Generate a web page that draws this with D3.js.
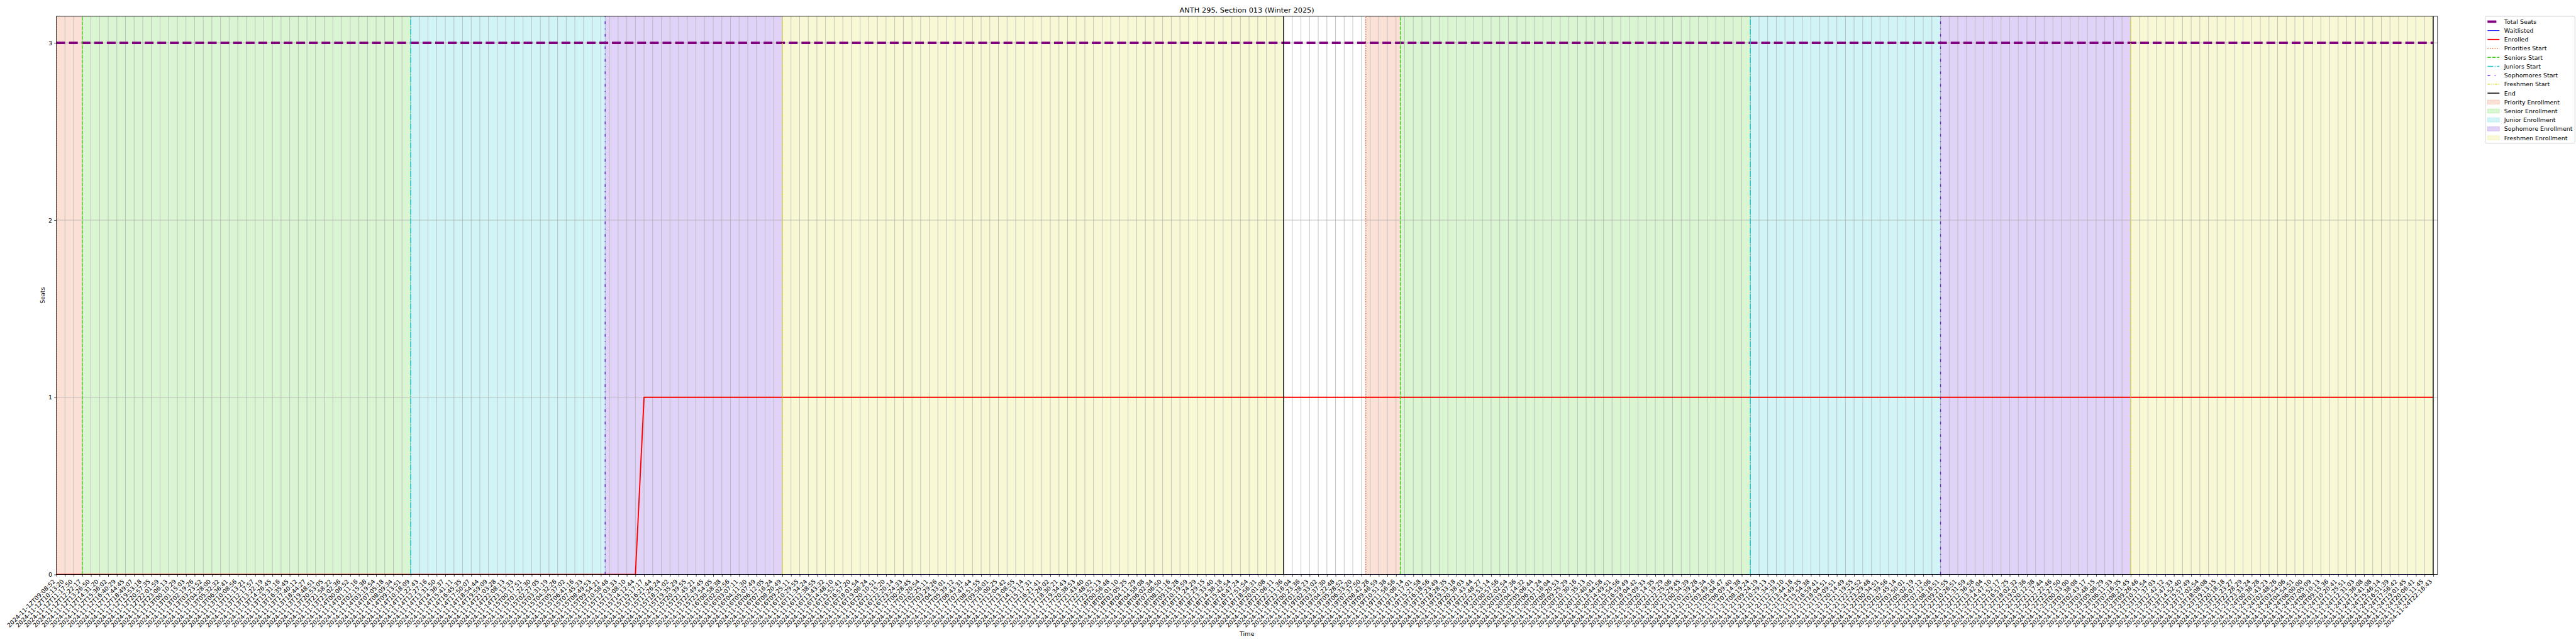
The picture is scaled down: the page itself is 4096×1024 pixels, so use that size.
<!DOCTYPE html>
<html><head><meta charset="utf-8">
<script src="https://cdn.jsdelivr.net/npm/d3@7"></script>
<style>html,body{margin:0;padding:0;background:#fff;} svg{display:block;}</style>
</head><body>
<svg id="chart" width="4096" height="1024"></svg>
<script>
// ---------------- DATA ----------------
const titleText = "ANTH 295, Section 013 (Winter 2025)";
const timeLabels = [
"2024-11-12T09:08:52","2024-11-12T10:13:20","2024-11-12T11:17:50","2024-11-12T12:22:17","2024-11-12T13:26:50","2024-11-12T14:31:20","2024-11-12T15:36:02","2024-11-12T16:40:29","2024-11-12T17:44:45","2024-11-12T18:49:07","2024-11-12T19:53:18","2024-11-12T20:57:35","2024-11-12T22:01:59","2024-11-12T23:06:13",
"2024-11-13T00:10:29","2024-11-13T01:15:03","2024-11-13T02:19:26","2024-11-13T03:23:52","2024-11-13T04:28:00","2024-11-13T05:32:32","2024-11-13T06:36:41","2024-11-13T10:08:56","2024-11-13T11:13:21","2024-11-13T12:17:57","2024-11-13T13:22:19","2024-11-13T14:26:45","2024-11-13T15:31:16","2024-11-13T16:35:45","2024-11-13T17:40:12","2024-11-13T18:44:27","2024-11-13T19:48:51","2024-11-13T20:53:05","2024-11-13T21:58:22","2024-11-13T23:02:36",
"2024-11-14T00:06:52","2024-11-14T01:11:16","2024-11-14T02:15:36","2024-11-14T03:19:54","2024-11-14T07:05:18","2024-11-14T08:09:34","2024-11-14T09:13:51","2024-11-14T10:18:09","2024-11-14T11:22:43","2024-11-14T12:27:16","2024-11-14T13:31:50","2024-11-14T14:36:37","2024-11-14T15:41:11","2024-11-14T16:45:35","2024-11-14T17:50:07","2024-11-14T18:54:44","2024-11-14T19:59:09","2024-11-14T21:03:28","2024-11-14T22:08:13","2024-11-14T23:13:33",
"2024-11-15T00:17:51","2024-11-15T01:22:30","2024-11-15T02:27:05","2024-11-15T03:31:19","2024-11-15T04:32:26","2024-11-15T05:37:02","2024-11-15T06:41:16","2024-11-15T07:45:33","2024-11-15T08:49:53","2024-11-15T09:54:21","2024-11-15T10:58:48","2024-11-15T12:03:33","2024-11-15T13:08:10","2024-11-15T14:12:44","2024-11-15T15:17:17","2024-11-15T16:21:44","2024-11-15T17:26:24","2024-11-15T18:31:02","2024-11-15T19:35:29","2024-11-15T20:39:55","2024-11-15T21:45:21","2024-11-15T22:49:45","2024-11-15T23:54:05",
"2024-11-16T00:58:38","2024-11-16T02:02:56","2024-11-16T03:07:11","2024-11-16T04:11:30","2024-11-16T05:07:49","2024-11-16T06:12:05","2024-11-16T07:16:24","2024-11-16T08:20:49","2024-11-16T09:25:11","2024-11-16T10:29:55","2024-11-16T11:34:24","2024-11-16T12:38:55","2024-11-16T13:43:32","2024-11-16T14:48:10","2024-11-16T15:52:41","2024-11-16T16:57:20","2024-11-16T18:01:54","2024-11-16T19:06:24","2024-11-16T20:10:51","2024-11-16T21:15:20","2024-11-16T22:20:14","2024-11-16T23:24:33",
"2024-11-17T00:28:45","2024-11-17T01:20:54","2024-11-17T02:25:11","2024-11-17T03:29:26","2024-11-17T04:33:01","2024-11-17T05:39:12","2024-11-17T06:43:31","2024-11-17T07:47:44","2024-11-17T08:51:55","2024-11-17T09:56:01","2024-11-17T11:00:25","2024-11-17T12:04:42","2024-11-17T13:08:55","2024-11-17T14:13:14","2024-11-17T15:17:31","2024-11-17T16:21:41","2024-11-17T17:26:02","2024-11-17T18:30:21","2024-11-17T19:34:43","2024-11-17T20:38:53","2024-11-17T21:43:40","2024-11-17T22:48:02","2024-11-17T23:52:13",
"2024-11-18T00:56:48","2024-11-18T02:01:10","2024-11-18T03:05:25","2024-11-18T04:11:29","2024-11-18T04:58:08","2024-11-18T06:02:34","2024-11-18T07:06:50","2024-11-18T08:11:16","2024-11-18T09:15:28","2024-11-18T10:19:59","2024-11-18T11:24:29","2024-11-18T12:29:15","2024-11-18T13:33:40","2024-11-18T14:38:18","2024-11-18T15:42:54","2024-11-18T16:47:24","2024-11-18T17:51:54","2024-11-18T18:56:31","2024-11-18T20:01:08","2024-11-18T21:06:11","2024-11-18T22:11:36","2024-11-18T23:16:04",
"2024-11-19T00:23:36","2024-11-19T01:28:23","2024-11-19T02:33:02","2024-11-19T03:37:30","2024-11-19T04:22:48","2024-11-19T05:28:52","2024-11-19T06:33:20","2024-11-19T07:37:50","2024-11-19T08:42:28","2024-11-19T09:46:59","2024-11-19T10:51:38","2024-11-19T11:56:56","2024-11-19T13:06:14","2024-11-19T14:17:01","2024-11-19T15:21:58","2024-11-19T16:18:56","2024-11-19T17:23:49","2024-11-19T18:28:35","2024-11-19T19:33:18","2024-11-19T20:38:03","2024-11-19T21:43:44","2024-11-19T22:48:27","2024-11-19T23:53:14",
"2024-11-20T00:57:56","2024-11-20T02:02:54","2024-11-20T03:07:36","2024-11-20T04:14:32","2024-11-20T05:06:44","2024-11-20T06:11:24","2024-11-20T07:16:04","2024-11-20T08:20:53","2024-11-20T09:25:29","2024-11-20T10:30:16","2024-11-20T11:35:13","2024-11-20T12:40:01","2024-11-20T13:44:58","2024-11-20T14:49:51","2024-11-20T15:54:56","2024-11-20T16:59:49","2024-11-20T18:04:42","2024-11-20T19:09:33","2024-11-20T20:14:35","2024-11-20T21:19:29","2024-11-20T22:25:06","2024-11-20T23:29:45",
"2024-11-21T00:34:39","2024-11-21T01:39:28","2024-11-21T02:44:34","2024-11-21T03:49:16","2024-11-21T05:04:47","2024-11-21T06:09:40","2024-11-21T07:14:38","2024-11-21T08:19:24","2024-11-21T09:24:19","2024-11-21T10:29:13","2024-11-21T11:34:19","2024-11-21T12:39:10","2024-11-21T13:44:18","2024-11-21T14:49:35","2024-11-21T15:54:38","2024-11-21T16:59:41","2024-11-21T18:04:51","2024-11-21T19:09:51","2024-11-21T20:14:49","2024-11-21T21:19:55","2024-11-21T22:24:52","2024-11-21T23:29:48",
"2024-11-22T00:34:51","2024-11-22T01:39:56","2024-11-22T02:45:14","2024-11-22T03:50:01","2024-11-22T05:02:19","2024-11-22T06:07:12","2024-11-22T07:12:06","2024-11-22T08:16:51","2024-11-22T09:21:55","2024-11-22T10:26:51","2024-11-22T11:31:59","2024-11-22T12:36:58","2024-11-22T13:42:04","2024-11-22T14:47:10","2024-11-22T15:52:17","2024-11-22T16:57:25","2024-11-22T18:02:32","2024-11-22T19:07:36","2024-11-22T20:12:38","2024-11-22T21:17:44","2024-11-22T22:22:46","2024-11-22T23:27:50",
"2024-11-23T00:33:00","2024-11-23T01:38:08","2024-11-23T02:43:17","2024-11-23T03:48:15","2024-11-23T05:06:29","2024-11-23T06:11:33","2024-11-23T07:16:35","2024-11-23T08:21:45","2024-11-23T09:26:46","2024-11-23T10:31:54","2024-11-23T11:37:03","2024-11-23T12:42:12","2024-11-23T13:47:33","2024-11-23T14:52:40","2024-11-23T15:57:49","2024-11-23T17:02:54","2024-11-23T18:08:08","2024-11-23T19:13:15","2024-11-23T20:18:18","2024-11-23T21:23:27","2024-11-23T22:28:29","2024-11-23T23:33:24",
"2024-11-24T00:38:28","2024-11-24T01:43:23","2024-11-24T02:48:26","2024-11-24T03:54:06","2024-11-24T04:54:51","2024-11-24T06:00:00","2024-11-24T07:05:09","2024-11-24T08:10:13","2024-11-24T09:15:36","2024-11-24T10:20:41","2024-11-24T11:25:51","2024-11-24T12:31:03","2024-11-24T13:36:08","2024-11-24T14:41:08","2024-11-24T15:46:14","2024-11-24T16:51:39","2024-11-24T17:56:42","2024-11-24T19:01:45","2024-11-24T20:06:41","2024-11-24T21:11:45","2024-11-24T22:16:43"
];
const totalSeats = [
3,3,3,3,3,3,3,3,3,3,3,3,3,3,3,3,3,3,3,3,3,3,3,3,3,3,3,3,3,3,3,3,3,3,3,3,3,3,3,3,3,3,3,3,3,3,
3,3,3,3,3,3,3,3,3,3,3,3,3,3,3,3,3,3,3,3,3,3,3,3,3,3,3,3,3,3,3,3,3,3,3,3,3,3,3,3,3,3,3,3,3,3,
3,3,3,3,3,3,3,3,3,3,3,3,3,3,3,3,3,3,3,3,3,3,3,3,3,3,3,3,3,3,3,3,3,3,3,3,3,3,3,3,3,3,3,3,3,3,
3,3,3,3,3,3,3,3,3,3,3,3,3,3,3,3,3,3,3,3,3,3,3,3,3,3,3,3,3,3,3,3,3,3,3,3,3,3,3,3,3,3,3,3,3,3,
3,3,3,3,3,3,3,3,3,3,3,3,3,3,3,3,3,3,3,3,3,3,3,3,3,3,3,3,3,3,3,3,3,3,3,3,3,3,3,3,3,3,3,3,3,3,
3,3,3,3,3,3,3,3,3,3,3,3,3,3,3,3,3,3,3,3,3,3,3,3,3,3,3,3,3,3,3,3,3,3,3,3,3,3,3,3,3,3,3,3,3,3
];
const waitlisted = [
0,0,0,0,0,0,0,0,0,0,0,0,0,0,0,0,0,0,0,0,0,0,0,0,0,0,0,0,0,0,0,0,0,0,0,0,0,0,0,0,0,0,0,0,0,0,
0,0,0,0,0,0,0,0,0,0,0,0,0,0,0,0,0,0,0,0,0,0,0,0,0,0,0,0,0,0,0,0,0,0,0,0,0,0,0,0,0,0,0,0,0,0,
0,0,0,0,0,0,0,0,0,0,0,0,0,0,0,0,0,0,0,0,0,0,0,0,0,0,0,0,0,0,0,0,0,0,0,0,0,0,0,0,0,0,0,0,0,0,
0,0,0,0,0,0,0,0,0,0,0,0,0,0,0,0,0,0,0,0,0,0,0,0,0,0,0,0,0,0,0,0,0,0,0,0,0,0,0,0,0,0,0,0,0,0,
0,0,0,0,0,0,0,0,0,0,0,0,0,0,0,0,0,0,0,0,0,0,0,0,0,0,0,0,0,0,0,0,0,0,0,0,0,0,0,0,0,0,0,0,0,0,
0,0,0,0,0,0,0,0,0,0,0,0,0,0,0,0,0,0,0,0,0,0,0,0,0,0,0,0,0,0,0,0,0,0,0,0,0,0,0,0,0,0,0,0,0,0
];
const enrolled = [
0,0,0,0,0,0,0,0,0,0,0,0,0,0,0,0,0,0,0,0,0,0,0,0,0,0,0,0,0,0,0,0,0,0,0,0,0,0,0,0,0,0,0,0,0,0,
0,0,0,0,0,0,0,0,0,0,0,0,0,0,0,0,0,0,0,0,0,0,1,1,1,1,1,1,1,1,1,1,1,1,1,1,1,1,1,1,1,1,1,1,1,1,
1,1,1,1,1,1,1,1,1,1,1,1,1,1,1,1,1,1,1,1,1,1,1,1,1,1,1,1,1,1,1,1,1,1,1,1,1,1,1,1,1,1,1,1,1,1,
1,1,1,1,1,1,1,1,1,1,1,1,1,1,1,1,1,1,1,1,1,1,1,1,1,1,1,1,1,1,1,1,1,1,1,1,1,1,1,1,1,1,1,1,1,1,
1,1,1,1,1,1,1,1,1,1,1,1,1,1,1,1,1,1,1,1,1,1,1,1,1,1,1,1,1,1,1,1,1,1,1,1,1,1,1,1,1,1,1,1,1,1,
1,1,1,1,1,1,1,1,1,1,1,1,1,1,1,1,1,1,1,1,1,1,1,1,1,1,1,1,1,1,1,1,1,1,1,1,1,1,1,1,1,1,1,1,1,1
];
const yTicks = [0, 1, 2, 3];
const xLimits = [0, 275.5];
const yLimits = [0, 3.15];
// phase boundaries (positions in sample index units)
const phaseNames   = ["Priorities Start", "Seniors Start", "Juniors Start", "Sophomores Start", "Freshmen Start"];
const spanNames    = ["Priority Enrollment", "Senior Enrollment", "Junior Enrollment", "Sophomore Enrollment", "Freshmen Enrollment"];
const period1Starts = [0, 3, 41, 63.5, 84];
const period1End    = 142;
const period2Starts = [151.5, 155.5, 196, 218, 240];
const period2End    = 275;

// ---------------- STYLE ----------------
const S = 0.682;
const PT = 100 / 72 * S;            // pixels per point
const phaseColors = ["#e8662e", "#3fcc1f", "#19c6d2", "#6a22d6", "#dcdc2c"];
const phaseDash = [[1, 1.65], [3.7, 1.6], [6.4, 1.6, 1, 1.6], [3, 5, 1, 5], [3, 1, 1, 1, 1, 1]];
const phaseLW = 1.5;

const W = 4096, H = 1024;
const M = {left: 131.3 * S, right: 5683 * S, top: 38 * S, bottom: 1339.5 * S};
const FS = 10 * 100 / 72 * S;  // 10pt
const FONT = "DejaVu Sans, sans-serif";

const svg = d3.select("#chart");
svg.append("rect").attr("width", W).attr("height", H).attr("fill", "#fff");

const x = d3.scaleLinear().domain(xLimits).range([M.left, M.right]);
const y = d3.scaleLinear().domain(yLimits).range([M.bottom, M.top]);

svg.append("defs").append("clipPath").attr("id", "clip")
  .append("rect").attr("x", M.left).attr("y", M.top)
  .attr("width", M.right - M.left).attr("height", M.bottom - M.top);

const plot = svg.append("g").attr("clip-path", "url(#clip)");

// spans
function drawSpans(starts, end) {
  for (let i = 0; i < starts.length; i++) {
    const a = starts[i], b = (i + 1 < starts.length) ? starts[i + 1] : end;
    plot.append("rect")
      .attr("x", x(a)).attr("y", M.top)
      .attr("width", x(b) - x(a)).attr("height", M.bottom - M.top)
      .attr("fill", phaseColors[i]).attr("fill-opacity", 0.2)
      .attr("stroke", phaseColors[i]).attr("stroke-opacity", 0.2).attr("stroke-width", 1 * PT);
  }
}
drawSpans(period1Starts, period1End);
drawSpans(period2Starts, period2End);

// grid
const idx = timeLabels.map((d, i) => i);
plot.append("g").selectAll("line").data(idx).join("line")
  .attr("x1", d => x(d)).attr("x2", d => x(d)).attr("y1", M.top).attr("y2", M.bottom)
  .attr("stroke", "#b0b0b0").attr("stroke-width", 0.8 * PT);
plot.append("g").selectAll("line").data(yTicks).join("line")
  .attr("x1", M.left).attr("x2", M.right).attr("y1", d => y(d)).attr("y2", d => y(d))
  .attr("stroke", "#b0b0b0").attr("stroke-width", 0.8 * PT);

// series
const line = d3.line().x((d, i) => x(i)).y(d => y(d));
plot.append("path").datum(totalSeats).attr("d", line).attr("fill", "none")
  .attr("stroke", "purple").attr("stroke-width", 4 * PT)
  .attr("stroke-dasharray", [3.7 * 4 * PT, 1.6 * 4 * PT].join(","));
plot.append("path").datum(waitlisted).attr("d", line).attr("fill", "none")
  .attr("stroke", "blue").attr("stroke-width", 1 * PT);
plot.append("path").datum(enrolled).attr("d", line).attr("fill", "none")
  .attr("stroke", "red").attr("stroke-width", 2 * PT).attr("stroke-linejoin", "round");

// phase lines
function drawStarts(starts, end) {
  starts.forEach((s, i) => {
    plot.append("line").attr("x1", x(s)).attr("x2", x(s)).attr("y1", M.bottom).attr("y2", M.top)
      .attr("stroke", phaseColors[i]).attr("stroke-width", phaseLW * PT)
      .attr("stroke-dasharray", phaseDash[i].map(v => v * phaseLW * PT).join(","));
  });
  plot.append("line").attr("x1", x(end)).attr("x2", x(end)).attr("y1", M.bottom).attr("y2", M.top)
    .attr("stroke", "black").attr("stroke-width", phaseLW * PT);
}
drawStarts(period1Starts, period1End);
drawStarts(period2Starts, period2End);

// spines
svg.append("rect").attr("x", M.left).attr("y", M.top)
  .attr("width", M.right - M.left).attr("height", M.bottom - M.top)
  .attr("fill", "none").attr("stroke", "black").attr("stroke-width", 0.8 * PT);

// axes
const tickLen = 3.5 * PT, tickPad = 3.5 * PT;
const xAxis = d3.axisBottom(x).tickValues(idx).tickFormat(i => timeLabels[i]).tickSize(tickLen).tickPadding(tickPad);
const gx = svg.append("g").attr("transform", `translate(0,${M.bottom})`).call(xAxis);
gx.select(".domain").remove();
gx.selectAll(".tick line").attr("stroke", "black").attr("stroke-width", 0.8 * PT);
gx.selectAll(".tick text")
  .attr("font-family", FONT).attr("font-size", FS).attr("fill", "black")
  .attr("text-anchor", "end").attr("y", null).attr("dy", null)
  .attr("transform", `translate(${-0.707 * 0.24 * FS},${tickLen + tickPad + 0.707 * 0.76 * FS}) rotate(-45)`);

const yAxis = d3.axisLeft(y).tickValues(yTicks).tickFormat(d3.format("d")).tickSize(tickLen).tickPadding(tickPad);
const gy = svg.append("g").attr("transform", `translate(${M.left},0)`).call(yAxis);
gy.select(".domain").remove();
gy.selectAll(".tick line").attr("stroke", "black").attr("stroke-width", 0.8 * PT);
gy.selectAll(".tick text").attr("font-family", FONT).attr("font-size", FS).attr("fill", "black");

// labels
svg.append("text").attr("x", (M.left + M.right) / 2).attr("y", M.top - 6 * PT)
  .attr("text-anchor", "middle").attr("font-family", FONT).attr("font-size", 12 * 100 / 72 * S)
  .text(titleText);
svg.append("text").attr("x", (M.left + M.right) / 2).attr("y", 1472 * S + 0.76 * FS)
  .attr("text-anchor", "middle").attr("font-family", FONT).attr("font-size", FS).text("Time");
svg.append("text").attr("transform", `translate(${(99 + 5) * S},${(M.top + M.bottom) / 2}) rotate(-90)`)
  .attr("text-anchor", "middle").attr("font-family", FONT).attr("font-size", FS).text("Seats");

// legend
const legendItems = [
  {label: "Total Seats", type: "line", color: "purple", lw: 4, dash: [3.7, 1.6]},
  {label: "Waitlisted", type: "line", color: "blue", lw: 1, dash: null},
  {label: "Enrolled", type: "line", color: "red", lw: 2, dash: null},
  ...phaseNames.map((n, i) => ({label: n, type: "line", color: phaseColors[i], lw: phaseLW, dash: phaseDash[i]})),
  {label: "End", type: "line", color: "black", lw: phaseLW, dash: null},
  ...spanNames.map((n, i) => ({label: n, type: "patch", color: phaseColors[i]}))
];
const bp = 0.4 * FS, hl = 2 * FS, htp = 0.8 * FS, ls = 0.5 * FS;
const lx = M.right + 0.02 * (M.right - M.left), ly = M.top;
const lg = svg.append("g");
const frame = lg.append("rect");
let maxW = 0;
legendItems.forEach((it, i) => {
  const cy = ly + bp + i * (FS + ls) + FS / 2;
  const hx = lx + bp;
  if (it.type === "line") {
    const l = lg.append("line").attr("x1", hx).attr("x2", hx + hl).attr("y1", cy).attr("y2", cy)
      .attr("stroke", it.color).attr("stroke-width", it.lw * PT);
    if (it.dash) l.attr("stroke-dasharray", it.dash.map(v => v * it.lw * PT).join(","));
  } else {
    lg.append("rect").attr("x", hx).attr("y", cy - 0.35 * FS).attr("width", hl).attr("height", 0.7 * FS)
      .attr("fill", it.color).attr("fill-opacity", 0.2)
      .attr("stroke", it.color).attr("stroke-opacity", 0.2).attr("stroke-width", 1 * PT);
  }
  const t = lg.append("text").attr("x", hx + hl + htp).attr("y", cy + 0.36 * FS)
    .attr("font-family", FONT).attr("font-size", FS).text(it.label);
  maxW = Math.max(maxW, t.node().getComputedTextLength());
});
const lh = 2 * bp + legendItems.length * FS + (legendItems.length - 1) * ls;
frame.attr("x", lx).attr("y", ly).attr("width", 2 * bp + hl + htp + maxW).attr("height", lh)
  .attr("rx", 0.2 * FS).attr("fill", "white").attr("fill-opacity", 0.8)
  .attr("stroke", "#cccccc").attr("stroke-width", 1 * PT);
</script>
</body></html>
